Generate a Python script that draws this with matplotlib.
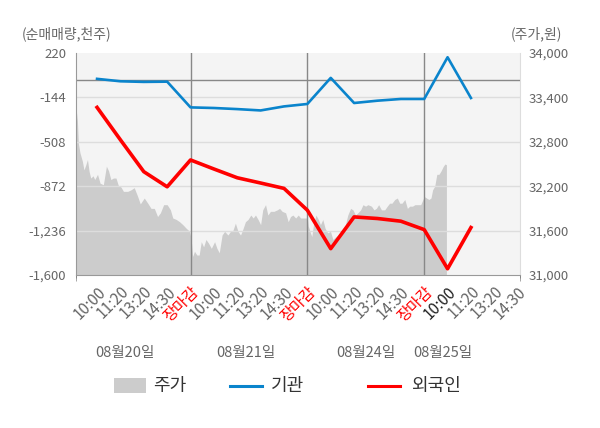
import numpy as np
import matplotlib
matplotlib.use("Agg")
import matplotlib.pyplot as plt
import matplotlib.transforms as mtransforms

plt.rcParams['font.family'] = ['Noto Sans CJK KR', 'DejaVu Sans']

# x units: each trading day spans 5 units (10:00, 11:20, 13:20, 14:30, 장마감)
tick_pos = list(range(1, 20))
tick_labels = ['10:00', '11:20', '13:20', '14:30', '장마감'] * 3 + ['10:00', '11:20', '13:20', '14:30']
day_labels = ['08월20일', '08월21일', '08월24일', '08월25일']
day_label_x = [2.2, 7.35, 12.5, 15.8]
day_bounds = [5, 10, 15]

# net buying (천주), one point per time slot
inv_x = list(range(1, 18))
inst = [8, -12, -17, -15, -226, -231, -240, -251, -218, -198, 16, -190, -171, -157, -157, 185, -149]
foreign = [-226, -492, -753, -877, -657, -731, -803, -846, -890, -1069, -1384, -1124, -1137, -1159, -1228, -1549, -1211]

# share price (원)
price_x = [0.10, 0.16, 0.20, 0.27, 0.37, 0.44, 0.52, 0.59, 0.66, 0.73, 0.83, 0.90, 1.02, 1.13, 1.27,
           1.40, 1.49, 1.59, 1.70, 1.81, 1.91, 2.02, 2.13, 2.31, 2.45, 2.59, 2.74, 2.85, 3.02, 3.17,
           3.31, 3.45, 3.59, 3.71, 3.85, 4.00, 4.14, 4.24, 4.39, 4.53, 4.67, 4.82, 4.96, 5.03,
           5.09, 5.17, 5.27, 5.37, 5.46, 5.56, 5.66, 5.77, 5.89, 6.03, 6.13, 6.23, 6.35, 6.46, 6.60,
           6.71, 6.80, 6.92, 7.03, 7.14, 7.23, 7.35, 7.46, 7.58, 7.68, 7.78, 7.89, 8.00, 8.09, 8.21,
           8.31, 8.42, 8.57, 8.71, 8.81, 8.92, 9.07, 9.18, 9.28, 9.38, 9.50, 9.61, 9.71, 9.86, 10.00,
           10.04, 10.13, 10.19, 10.27, 10.37, 10.47, 10.56, 10.66, 10.76, 10.87, 10.99, 11.09, 11.23,
           11.33, 11.45, 11.59, 11.73, 11.85, 11.95, 12.06, 12.16, 12.28, 12.38, 12.49, 12.59, 12.74,
           12.85, 12.95, 13.05, 13.17, 13.31, 13.42, 13.52, 13.62, 13.74, 13.85, 13.95, 14.05, 14.17,
           14.28, 14.38, 14.50, 14.60, 14.71, 14.85, 15.00, 15.10, 15.20, 15.29, 15.36, 15.45, 15.54,
           15.63, 15.71, 15.82, 15.89, 15.95]
price = [33260, 33080, 32780, 32650, 32540, 32420, 32490, 32560, 32400, 32310, 32340, 32290, 32360,
         32240, 32220, 32470, 32410, 32290, 32310, 32310, 32210, 32190, 32130, 32130, 32150, 32180,
         32060, 31960, 32040, 31970, 31900, 31900, 31790, 31840, 31950, 31950, 31880, 31770, 31750,
         31720, 31680, 31630, 31590, 31480,
         31250, 31320, 31270, 31270, 31450, 31380, 31480, 31430, 31360, 31450, 31360, 31300, 31540,
         31590, 31540, 31590, 31590, 31700, 31590, 31540, 31610, 31720, 31750, 31810, 31770, 31810,
         31750, 31680, 31880, 31950, 31810, 31860, 31860, 31880, 31900, 31860, 31840, 31720, 31790,
         31810, 31770, 31810, 31770, 31770, 31770,
         31660, 31570, 31520, 31700, 31810, 31750, 31680, 31750, 31630, 31570, 31590, 31480, 31520,
         31540, 31590, 31630, 31810, 31900, 31880, 31810, 31840, 31880, 31950, 31930, 31950, 31930,
         31880, 31900, 31950, 31880, 31880, 31930, 31970, 31970, 32020, 32040, 31970, 31970, 32020,
         31900, 31930, 31930, 31950, 31950, 31950, 32060, 32040, 32020, 32040, 32150, 32200, 32360,
         32360, 32400, 32470, 32500, 32490]

fig = plt.figure(figsize=(6, 4.28), dpi=100)
ax2 = fig.add_axes([0.1267, 0.3575, 0.74, 0.5187])   # price axis, drawn behind
ax = fig.add_axes(ax2.get_position(), sharex=ax2)     # net buying axis on top
ax.set_zorder(ax2.get_zorder() + 1)
ax.patch.set_visible(False)

ax2.set_facecolor('#f4f4f4')
ax2.fill_between(price_x, price, 31000, color='#cccccc', lw=0)
ax2.set_ylim(31000, 34000)
ax2.yaxis.tick_right()
rticks = [31000, 31600, 32200, 32800, 33400, 34000]
ax2.set_yticks(rticks)
ax2.set_yticklabels(['{:,}'.format(v) for v in rticks])
ax2.tick_params(axis='y', length=0, pad=6, labelsize=9.5, labelcolor='#666666')

ax.set_ylim(-1600, 220)
ax.set_xlim(0.1, 19.1)
lticks = [-1600, -1236, -872, -508, -144, 220]
ax.set_yticks(lticks)
ax.set_yticklabels(['{:,}'.format(v) for v in lticks])
ax.tick_params(axis='y', length=0, pad=7, labelsize=9.5, labelcolor='#666666')
for v in lticks[1:-1]:
    ax.axhline(v, color='#dddddd', lw=1, zorder=1)
ax.axhline(0, color='#888888', lw=1, zorder=1)
for b in day_bounds:
    ax.axvline(b, color='#888888', lw=1, zorder=1)

ax.plot(inv_x, inst, color='#0a84cc', lw=1.9, zorder=3)
ax.plot(inv_x, foreign, color='#ff0000', lw=2.6, zorder=3)

ax.spines['top'].set_visible(False)
ax2.spines['top'].set_visible(False)
ax.spines['right'].set_visible(False)
ax2.spines['left'].set_visible(False)
ax2.spines['right'].set_color('#dddddd')
ax.spines['left'].set_color('#999999')
ax.spines['bottom'].set_color('#999999')
ax2.spines['bottom'].set_visible(False)

ax.set_xticks(tick_pos)
ax.set_xticklabels(tick_labels, rotation=45, ha='right', rotation_mode='anchor')
ax.set_xticks([0.1] + day_bounds + [19.1], minor=True)
ax.tick_params(axis='x', which='major', length=0, pad=6, labelsize=11, labelcolor='#666666')
ax.tick_params(axis='x', which='minor', length=4, color='#999999')
plt.setp(ax2.get_xticklabels(), visible=False)
ax2.tick_params(axis='x', length=0)
for i, lab in enumerate(ax.get_xticklabels()):
    if tick_labels[i] == '장마감':
        lab.set_color('#ff0000')
    elif i == 15:
        lab.set_color('#222222')

trans = mtransforms.blended_transform_factory(ax.transData, fig.transFigure)
for x, t in zip(day_label_x, day_labels):
    fig.text(x, 1 - 353 / 428, t, transform=trans, ha='center', va='center',
             fontsize=10.5, color='#666666')

fig.text(22 / 600, 1 - 34 / 428, '(순매매량,천주)', ha='left', va='center', fontsize=10, color='#666666')
fig.text(562 / 600, 1 - 34 / 428, '(주가,원)', ha='right', va='center', fontsize=10, color='#666666')

# legend
fy = 1 - 386 / 428
fig.patches.append(plt.Rectangle((114 / 600, 1 - 393 / 428), 32 / 600, 15 / 428,
                                 transform=fig.transFigure, color='#cccccc', lw=0))
fig.text(153 / 600, fy, '주가', ha='left', va='center', fontsize=13, color='#333333')
fig.lines.append(plt.Line2D([230 / 600, 262 / 600], [fy, fy], transform=fig.transFigure,
                            color='#0a84cc', lw=2.2))
fig.text(271 / 600, fy, '기관', ha='left', va='center', fontsize=13, color='#333333')
fig.lines.append(plt.Line2D([368 / 600, 400 / 600], [fy, fy], transform=fig.transFigure,
                            color='#ff0000', lw=2.2))
fig.text(411 / 600, fy, '외국인', ha='left', va='center', fontsize=13, color='#333333')

fig.savefig('out.png', dpi=100)
